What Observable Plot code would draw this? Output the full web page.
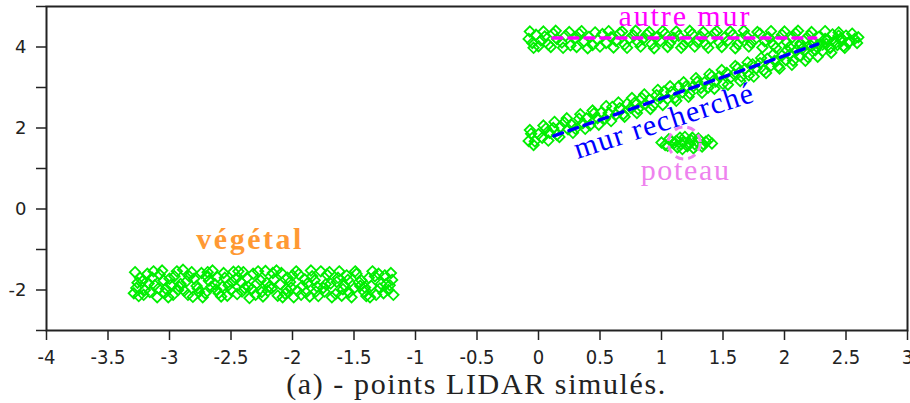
<!DOCTYPE html>
<html>
<head>
<meta charset="utf-8">
<script src="https://cdn.jsdelivr.net/npm/d3@7"></script>
<script src="https://cdn.jsdelivr.net/npm/@observablehq/plot@0.6"></script>
<style>
  body { margin: 0; background: #fff; width: 910px; height: 403px; overflow: hidden; }
  #caption { font-family: "Liberation Serif", "Times New Roman", "DejaVu Serif", serif; font-size: 30px; letter-spacing: 1.6px; text-align: center;
             padding-left: 46px; padding-right: 3px; line-height: 34px; color: #222; margin-top: 3px; }
</style>
</head>
<body>
<div id="chart"></div>
<div id="caption"></div>
<script>
// ---- data ----
const vegetal = [
  [-3.28,-1.56],[-3.27,-1.95],[-3.25,-2.15],[-3.22,-1.78],[-3.18,-1.60],[-3.16,-2.05],[-3.12,-1.88],[-3.10,-2.18],
  [-3.06,-1.52],[-3.03,-1.97],[-3.00,-1.72],[-2.97,-2.12],[-2.94,-1.54],[-2.91,-1.85],[-2.88,-2.02],[-2.84,-1.66],
  [-2.81,-2.17],[-2.78,-1.90],[-2.74,-1.58],[-2.71,-2.08],[-2.68,-1.77],[-2.65,-1.52],[-2.62,-1.99],[-2.58,-2.16],
  [-2.55,-1.70],[-2.52,-1.88],[-2.48,-1.55],[-2.45,-2.10],[-2.42,-1.80],[-2.39,-1.95],[-2.35,-2.20],[-2.32,-1.60],
  [-2.29,-1.84],[-2.25,-2.05],[-2.22,-1.53],[-2.19,-1.92],[-2.15,-1.74],[-2.12,-2.14],[-2.09,-1.58],[-2.05,-1.98],
  [-2.02,-1.80],[-1.99,-2.18],[-1.95,-1.61],[-1.92,-1.90],[-1.89,-2.06],[-1.85,-1.52],[-1.82,-1.76],[-1.79,-2.15],
  [-1.75,-1.95],[-1.72,-1.62],[-1.69,-1.84],[-1.65,-2.10],[-1.62,-1.54],[-1.59,-1.98],[-1.55,-1.75],[-1.52,-2.18],
  [-1.48,-1.60],[-1.45,-1.90],[-1.42,-2.04],[-1.38,-1.70],[-1.35,-1.54],[-1.32,-2.12],[-1.28,-1.85],[-1.25,-1.64],
  [-1.22,-2.00],[-1.19,-1.75],
  [-3.26,-1.82],[-3.20,-2.00],[-3.14,-1.70],[-3.08,-1.62],[-3.04,-2.08],[-2.99,-1.88],[-2.93,-2.00],[-2.86,-1.78],
  [-2.82,-1.56],[-2.76,-2.05],[-2.70,-1.66],[-2.63,-1.86],[-2.60,-2.08],[-2.56,-1.58],[-2.50,-2.00],[-2.46,-1.72],
  [-2.40,-1.56],[-2.36,-1.92],[-2.30,-2.12],[-2.26,-1.76],[-2.20,-2.02],[-2.16,-1.58],[-2.10,-1.86],[-2.06,-2.09],
  [-2.00,-1.64],[-1.96,-2.02],[-1.90,-1.74],[-1.86,-2.16],[-1.80,-1.92],[-1.74,-2.04],[-1.70,-1.56],[-1.64,-1.80],
  [-1.60,-2.14],[-1.56,-1.64],[-1.50,-1.96],[-1.44,-1.76],[-1.40,-2.15],[-1.36,-1.90],[-1.30,-1.60],[-1.26,-2.08],
  [-1.21,-1.88],
  [-3.29,-2.08],[-3.24,-1.70],[-3.21,-2.12],[-3.17,-1.84],[-3.13,-1.54],[-3.09,-1.96],[-3.05,-1.76],[-3.01,-2.18],
  [-2.96,-1.66],[-2.92,-1.92],[-2.89,-1.50],[-2.85,-2.12],[-2.80,-1.72],[-2.77,-1.96],[-2.73,-2.18],[-2.69,-1.56],
  [-2.66,-1.92],[-2.61,-1.68],[-2.57,-1.92],[-2.53,-2.14],[-2.49,-1.80],[-2.44,-1.54],[-2.41,-2.04],[-2.37,-1.70],
  [-2.33,-1.98],[-2.28,-1.54],[-2.24,-2.16],[-2.21,-1.82],[-2.17,-1.96],[-2.13,-1.52],[-2.08,-2.18],[-2.04,-1.70],
  [-2.01,-1.94],[-1.97,-1.54],[-1.93,-2.12],[-1.88,-1.84],[-1.84,-1.66],[-1.81,-2.04],[-1.77,-1.54],[-1.73,-1.86],
  [-1.68,-2.18],[-1.63,-1.70],[-1.58,-1.88],[-1.54,-2.06],[-1.49,-1.54],[-1.46,-1.80],[-1.41,-1.94],[-1.37,-2.18],
  [-1.33,-1.66],[-1.29,-1.96],[-1.24,-1.86],[-1.20,-1.58],[-1.18,-2.12]
];
const autreMur = [
  [-0.08,4.20],[-0.05,4.10],[-0.02,4.30],[0.02,4.16],[0.05,4.26],[0.08,4.06],[0.12,4.33],[0.15,4.20],[0.19,4.11],
  [0.22,4.28],[0.26,4.04],[0.30,4.22],[0.33,4.33],[0.37,4.14],[0.41,4.25],[0.44,4.05],[0.48,4.18],[0.52,4.32],
  [0.55,4.10],[0.59,4.24],[0.63,4.15],[0.66,4.34],[0.70,4.06],[0.74,4.21],[0.77,4.29],[0.81,4.12],[0.85,4.20],
  [0.88,4.31],[0.92,4.07],[0.96,4.24],[0.99,4.15],[1.03,4.33],[1.07,4.10],[1.10,4.22],[1.14,4.28],[1.18,4.05],
  [1.21,4.18],[1.25,4.32],[1.29,4.13],[1.32,4.25],[1.36,4.06],[1.40,4.20],[1.43,4.34],[1.47,4.11],[1.51,4.23],
  [1.54,4.16],[1.58,4.30],[1.62,4.07],[1.65,4.21],[1.69,4.27],[1.73,4.10],[1.76,4.19],[1.80,4.33],[1.84,4.14],
  [1.87,4.24],[1.91,4.05],[1.95,4.18],[1.98,4.30],[2.02,4.12],[2.06,4.23],[2.09,4.34],[2.13,4.09],[2.17,4.20],
  [2.20,4.28],[2.24,4.13],[2.28,4.25],[2.31,4.06],[2.35,4.18],[2.39,4.31],[2.42,4.11],[2.46,4.22],[2.50,4.28],
  [2.53,4.14],[2.57,4.20],[2.60,4.24],
  [-0.07,4.38],[-0.04,3.98],[0.00,4.02],[0.04,4.38],[0.10,4.00],[0.14,4.40],[0.20,3.98],[0.25,4.37],[0.31,4.00],
  [0.35,4.39],[0.40,3.97],[0.46,4.36],[0.50,4.01],[0.57,4.39],[0.61,3.99],[0.68,4.38],[0.72,3.98],[0.79,4.40],
  [0.83,4.01],[0.90,4.37],[0.94,3.97],[1.01,4.39],[1.05,4.00],[1.12,4.38],[1.16,3.98],[1.23,4.40],[1.27,4.01],
  [1.34,4.37],[1.38,3.98],[1.45,4.39],[1.49,4.00],[1.56,4.38],[1.60,3.97],[1.67,4.40],[1.71,4.01],[1.78,4.37],
  [1.82,3.99],[1.89,4.39],[1.93,3.98],[2.00,4.38],[2.04,4.00],[2.11,4.40],[2.15,3.98],[2.22,4.37],[2.26,4.01],
  [2.33,4.39],[2.37,3.99],[2.44,4.36],[2.48,4.02],[2.55,4.33],[2.59,4.10]
];
const murRecherche = [
  [-0.08,1.68],[-0.06,1.86],[-0.03,1.67],[0.00,1.85],[0.03,1.76],[0.06,1.99],[0.09,1.88],[0.12,2.00],[0.15,1.83],
  [0.18,2.03],[0.21,2.14],[0.24,1.97],[0.27,2.08],[0.30,1.98],[0.33,2.23],[0.36,2.12],[0.39,2.24],[0.42,2.07],
  [0.45,2.36],[0.48,2.24],[0.51,2.38],[0.54,2.23],[0.57,2.37],[0.60,2.52],[0.63,2.33],[0.66,2.49],[0.69,2.34],
  [0.72,2.60],[0.75,2.50],[0.78,2.62],[0.81,2.47],[0.84,2.74],[0.87,2.59],[0.90,2.70],[0.93,2.55],[0.96,2.81],
  [0.99,2.74],[1.02,2.90],[1.05,2.72],[1.08,2.89],[1.11,2.74],[1.14,3.03],[1.17,2.88],[1.20,3.03],[1.23,2.85],
  [1.26,3.03],[1.29,3.14],[1.32,2.99],[1.35,3.13],[1.38,3.00],[1.41,3.28],[1.44,3.15],[1.47,3.27],[1.50,3.09],
  [1.53,3.36],[1.56,3.24],[1.59,3.33],[1.62,3.48],[1.65,3.27],[1.68,3.46],[1.71,3.30],[1.74,3.57],[1.77,3.47],
  [1.80,3.60],[1.83,3.42],[1.86,3.71],[1.89,3.54],[1.92,3.66],[1.95,3.52],[1.98,3.79],[2.01,3.68],[2.04,3.81],
  [2.07,3.66],[2.10,3.92],[2.13,3.78],[2.16,3.90],[2.19,3.75],[2.22,4.02],[2.25,3.92],[2.28,4.05],[2.31,3.90],
  [2.34,4.08],[2.37,3.97],[2.40,4.13],[2.43,4.05],[2.46,4.16],
  [-0.07,1.95],[-0.04,1.58],[0.04,2.06],[0.08,1.69],[0.13,2.15],[0.17,1.78],[0.23,2.24],[0.28,1.88],[0.34,2.34],
  [0.38,1.98],[0.44,2.43],[0.49,2.08],[0.55,2.54],[0.59,2.17],[0.65,2.63],[0.70,2.28],[0.76,2.74],[0.80,2.37],
  [0.86,2.83],[0.91,2.47],[0.97,2.94],[1.01,2.57],[1.07,3.03],[1.12,2.67],[1.18,3.13],[1.22,2.77],[1.28,3.23],
  [1.33,2.87],[1.39,3.33],[1.43,2.97],[1.49,3.43],[1.54,3.07],[1.60,3.53],[1.64,3.16],[1.70,3.62],[1.75,3.27],
  [1.81,3.73],[1.85,3.36],[1.91,3.82],[1.96,3.47],[2.02,3.92],[2.06,3.56],[2.12,4.02],[2.17,3.66],[2.23,4.12],
  [2.27,3.76],[2.33,4.20],[2.38,3.86],[2.44,4.28],[2.49,3.98],[2.52,4.10]
];
const poteau = [
  [1.00,1.64],[1.05,1.56],[1.06,1.72],[1.10,1.62],[1.13,1.52],[1.15,1.76],[1.18,1.66],[1.21,1.55],
  [1.24,1.70],[1.27,1.60],[1.30,1.74],[1.33,1.54],[1.36,1.66],[1.41,1.62],[1.19,1.78],[1.12,1.68],
  [1.03,1.58],[1.08,1.68],[1.16,1.60],[1.23,1.62],[1.29,1.66],[1.34,1.60],[1.38,1.70],[1.25,1.76],
  [1.17,1.48],[1.26,1.50]
];
const autreMurLine = [[0.117, 4.22], [2.254, 4.22]];
const murLine = [[0.125, 1.805], [2.27, 4.07]];
const poteauCenter = [[1.185, 1.63]];

const labelNames = ["autre mur", "mur recherché", "poteau", "végétal"];
const labelX = [1.19, 1.043, 1.197, -2.345];
const labelY = [4.51, 1.95, 0.72, -0.98];

const xTicks = [-4, -3.5, -3, -2.5, -2, -1.5, -1, -0.5, 0, 0.5, 1, 1.5, 2, 2.5, 3];
const yTicks = [-3, -2, -1, 0, 1, 2, 3, 4, 5];
const yLabelTicks = [-2, 0, 2, 4];
const captionText = "(a) - points LIDAR simulés.";

// ---- chart ----
const GREEN = "#00ee00";
const SERIF = "'Liberation Serif', 'Times New Roman', 'DejaVu Serif', serif";
const px = d => d[0], py = d => d[1];
const dotOpts = {x: px, y: py, symbol: "diamond2", r: 4.7, stroke: GREEN, strokeWidth: 1.8, fill: "none"};
const lbl = i => [{x: labelX[i], y: labelY[i], t: labelNames[i]}];
const txt = {x: "x", y: "y", text: "t", textAnchor: "middle", lineAnchor: "bottom",
             fontFamily: SERIF, fontSize: 30};

const chart = Plot.plot({
  width: 910, height: 364,
  marginLeft: 46, marginRight: 3, marginTop: 6, marginBottom: 34,
  x: {domain: [-4, 3], ticks: xTicks, tickSize: 10, tickPadding: 9, tickFormat: d => String(d), label: null},
  y: {domain: [-3, 5], ticks: yTicks, tickSize: 10, tickFormat: () => "", label: null},
  style: {background: "#fff", color: "#222", overflow: "visible"},
  marks: [
    Plot.dot(vegetal, dotOpts),
    Plot.dot(autreMur, dotOpts),
    Plot.dot(murRecherche, dotOpts),
    Plot.dot(poteau, dotOpts),
    Plot.line(autreMurLine, {x: px, y: py, stroke: "#ff00ff", strokeWidth: 3.5, strokeDasharray: "9,7"}),
    Plot.line(murLine, {x: px, y: py, stroke: "#0000ff", strokeWidth: 3.5, strokeDasharray: "9,7"}),
    Plot.dot(poteauCenter, {x: px, y: py, r: 16, stroke: "#ee82ee", strokeWidth: 3, strokeDasharray: "8,5", fill: "none"}),
    Plot.text(lbl(0), {...txt, fill: "#ff00ff"}),
    Plot.text(lbl(1), {...txt, fill: "#0000ff", rotate: -18}),
    Plot.text(lbl(2), {...txt, fill: "#ee82ee"}),
    Plot.text(lbl(3), {...txt, fill: "#ff9933", fontWeight: "bold"}),
    Plot.text(yLabelTicks, {y: d => d, text: d => String(d), frameAnchor: "left", textAnchor: "end",
      dx: -20, fontSize: 18, fontFamily: "DejaVu Sans", fill: "#222"}),
    Plot.frame({stroke: "#222", strokeWidth: 2})
  ]
});

const svg = d3.select(chart);
svg.selectAll('g[aria-label="x-axis tick label"]')
  .attr("font-size", 20).attr("font-family", "'DejaVu Sans Condensed', 'DejaVu Sans', sans-serif");
svg.selectAll('g[aria-label="x-axis tick"], g[aria-label="y-axis tick"]')
  .attr("stroke-width", 1.5);

const spacing = {"autre mur": 1.9, "mur recherché": 1.2, "poteau": 1.7, "végétal": 2.5};
svg.selectAll("text").each(function() {
  const s = spacing[this.textContent];
  if (s !== undefined) this.style.letterSpacing = s + "px";
});
document.getElementById("chart").appendChild(chart);
document.getElementById("caption").textContent = captionText;
</script>
</body>
</html>
